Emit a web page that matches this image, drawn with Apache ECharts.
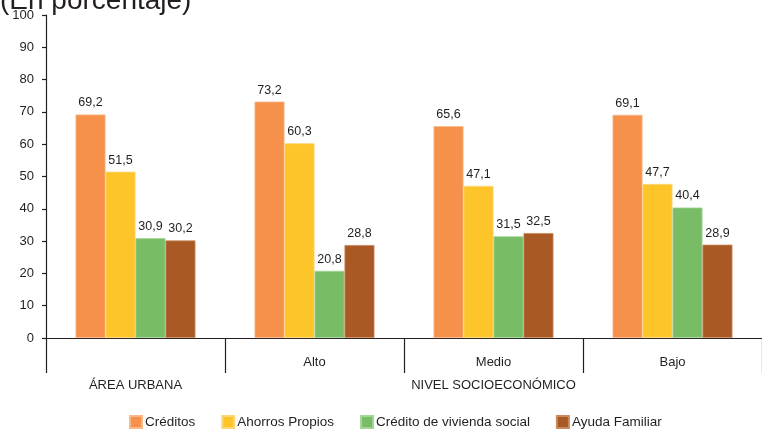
<!DOCTYPE html>
<html>
<head>
<meta charset="utf-8">
<script src="https://cdn.jsdelivr.net/npm/echarts@6/dist/echarts.min.js"></script>
<style>
  html, body { margin: 0; padding: 0; background: #fff; }
  #chart { width: 762px; height: 429px; }
</style>
</head>
<body>
<div id="chart"></div>
<script>
// Sub-group labels (first level) and group labels (second level)
const subCategories = ['', 'Alto', 'Medio', 'Bajo'];
const groupLabels = ['ÁREA URBANA', '', 'NIVEL SOCIOECONÓMICO', ''];

// Percentages per funding source
const creditos = [69.2, 73.2, 65.6, 69.1];
const ahorrosPropios = [51.5, 60.3, 47.1, 47.7];
const creditoViviendaSocial = [30.9, 20.8, 31.5, 40.4];
const ayudaFamiliar = [30.2, 28.8, 32.5, 28.9];

const yTicks = { min: 0, max: 100, interval: 10 };

const FONT = '"Liberation Sans", Arial, Helvetica, sans-serif';
const TXT = '#231f20';

const chart = echarts.init(document.getElementById('chart'), null, { renderer: 'canvas' });

function mkSeries(name, data, color, border) {
  return {
    name: name,
    type: 'bar',
    data: data,
    xAxisIndex: 0,
    barGap: '0%',
    barCategoryGap: '33%',
    itemStyle: { color: color, borderColor: border, borderWidth: 0.8 },
    label: {
      show: true,
      position: 'top',
      distance: 5,
      color: TXT,
      fontFamily: FONT,
      fontSize: 12.5,
      formatter: p => p.value.toFixed(1).replace('.', ',')
    }
  };
}

chart.setOption({
  animation: false,
  textStyle: { fontFamily: FONT },
  graphic: [{
    type: 'text',
    left: 0,
    top: -13,
    style: { text: '(En porcentaje)', font: '28px ' + FONT, fill: TXT }
  }],
  grid: { left: 46, right: -2, top: 15, bottom: 91, containLabel: false },
  legend: {
    bottom: -5,
    left: 124,
    icon: 'rect',
    itemWidth: 12,
    itemHeight: 12,
    itemGap: 26,
    textStyle: { fontFamily: FONT, fontSize: 13.5, color: TXT, padding: [0, 0, 0, -2] },
    data: ['Créditos', 'Ahorros Propios', 'Crédito de vivienda social', 'Ayuda Familiar']
  },
  xAxis: [{
    type: 'category',
    data: subCategories,
    position: 'bottom',
    axisLine: { show: true, lineStyle: { color: '#231f20', width: 1.2 } },
    axisTick: { show: true, length: 35, lineStyle: { color: '#231f20', width: 1.2 } },
    axisLabel: { margin: 18, fontFamily: FONT, fontSize: 13, color: TXT },
    splitLine: { show: false }
  }, {
    type: 'category',
    data: groupLabels,
    position: 'bottom',
    axisLine: { show: false },
    axisTick: { show: false },
    axisLabel: { margin: 41, fontFamily: FONT, fontSize: 13, color: TXT, interval: 0 },
    splitLine: { show: false }
  }],
  yAxis: {
    type: 'value',
    min: yTicks.min,
    max: yTicks.max,
    interval: yTicks.interval,
    axisLine: { show: true, lineStyle: { color: '#231f20', width: 1.2 } },
    axisTick: { show: true, length: 4, lineStyle: { color: '#231f20', width: 1.2 } },
    axisLabel: { margin: 12, fontFamily: FONT, fontSize: 13, color: TXT },
    splitLine: { show: false }
  },
  series: [
    mkSeries('Créditos', creditos, '#f5914a', '#f9b98a'),
    mkSeries('Ahorros Propios', ahorrosPropios, '#fec52a', '#fed77a'),
    mkSeries('Crédito de vivienda social', creditoViviendaSocial, '#78bd66', '#a4d497'),
    mkSeries('Ayuda Familiar', ayudaFamiliar, '#a95a24', '#c98a5f')
  ]
});
</script>
</body>
</html>
